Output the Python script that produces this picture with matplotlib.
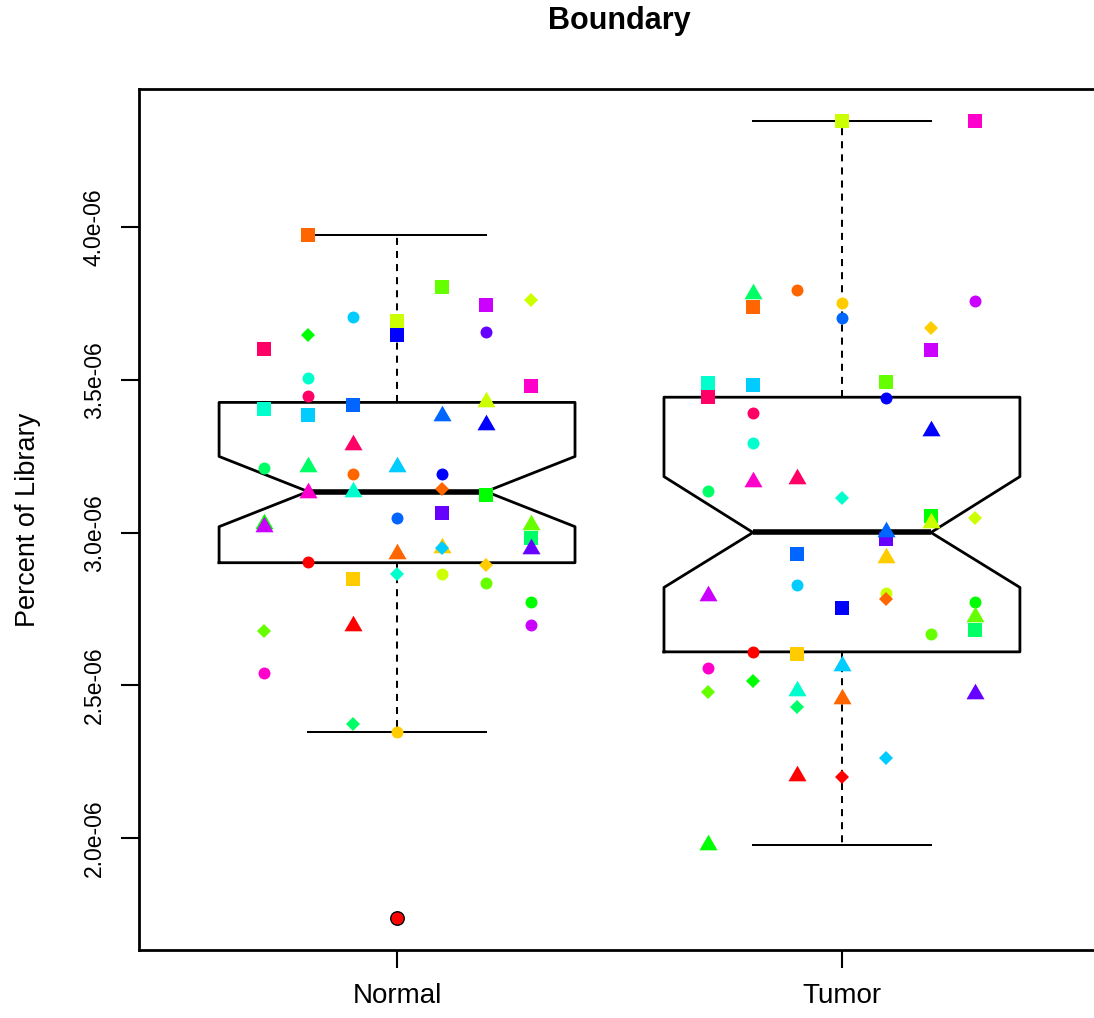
import matplotlib.pyplot as plt
import numpy as np

plt.rcParams['font.family'] = ['Liberation Sans', 'DejaVu Sans']

groups = ["Normal", "Tumor"]
scale = 1e-6

# rainbow(15)
palette = ['#FF0000', '#FF6600', '#FFCC00', '#CCFF00', '#66FF00', '#00FF00', '#00FF66', '#00FFCC',
           '#00CCFF', '#0066FF', '#0000FF', '#6600FF', '#CC00FF', '#FF00CC', '#FF0066']

# Normal samples: value (x1e-6), jitter slot, colour index, shape
normal_vals = [3.976, 3.805, 3.745, 3.762, 3.708, 3.694, 3.647, 3.647, 3.656, 3.601,
               3.508, 3.480, 3.449, 3.437, 3.404, 3.387, 3.420, 3.393, 3.364, 3.297,
               3.211, 3.224, 3.191, 3.226, 3.191, 3.139, 3.142, 3.144, 3.125, 3.048,
               3.064, 3.037, 3.030, 3.034, 2.983, 2.956, 2.939, 2.961, 2.950, 2.903,
               2.893, 2.865, 2.850, 2.864, 2.834, 2.774, 2.704, 2.698, 2.677, 2.541,
               2.373, 2.347, 1.738]
normal_slot = [-2, 1, 2, 3, -1, 0, 0, -2, 2, -3,
               -2, 3, -2, 2, -3, -2, -1, 1, 2, -1,
               -3, -2, -1, 0, 1, -2, -1, 1, 2, 0,
               1, -3, -3, 3, 3, 3, 0, 1, 1, -2,
               2, 0, -1, 1, 2, 3, -1, 3, -3, -3,
               -1, 0, 0]
normal_col = [1, 4, 12, 3, 8, 3, 10, 5, 11, 14,
              7, 13, 14, 3, 7, 8, 9, 9, 10, 14,
              6, 6, 1, 8, 10, 13, 7, 1, 5, 9,
              11, 5, 12, 4, 6, 11, 1, 2, 8, 0,
              2, 7, 2, 3, 4, 5, 0, 12, 4, 13,
              6, 2, 0]
normal_pch = "sssDossDos" "oso^sss^^^" "o^o^o^^Dso" "s^^^s^^^Do" "DDsooo^oDo" "Doo"

# Tumor samples
tumor_vals = [4.349, 4.348, 3.792, 3.740, 3.796, 3.751, 3.705, 3.758, 3.671, 3.598,
              3.491, 3.483, 3.494, 3.445, 3.443, 3.391, 3.342, 3.295, 3.175, 3.185,
              3.136, 3.114, 3.054, 3.043, 3.049, 2.978, 3.013, 2.928, 2.932, 2.803,
              2.829, 2.803, 2.784, 2.754, 2.772, 2.735, 2.682, 2.670, 2.610, 2.604,
              2.575, 2.558, 2.513, 2.478, 2.491, 2.466, 2.429, 2.483, 2.263, 2.212,
              2.201, 1.986]
tumor_slot = [0, 3, -2, -2, -1, 0, 0, 3, 2, 2,
              -3, -2, 1, -3, 1, -2, 2, -2, -2, -1,
              -3, 0, 2, 2, 3, 1, 1, 1, -1, -3,
              -1, 1, 1, 0, 3, 3, 3, 2, -2, -1,
              0, -3, -2, -3, -1, 0, -1, 3, 1, -1,
              0, -3]
tumor_col = [3, 13, 6, 1, 1, 2, 9, 12, 2, 12,
             7, 8, 4, 14, 10, 14, 10, 7, 13, 14,
             6, 7, 5, 3, 3, 11, 9, 2, 9, 12,
             8, 3, 1, 10, 5, 4, 6, 4, 0, 2,
             8, 13, 5, 4, 7, 1, 6, 11, 8, 0,
             0, 5]
tumor_pch = "ss^sooooDs" "ssssoo^o^^" "oDs^Ds^^s^" "ooDso^soos" "^oDD^^D^D^" "D^"

# notched box statistics (x1e-6)
box_whislo = [2.349, 1.977]
box_q1 = [2.902, 2.610]
box_med = [3.135, 3.001]
box_q3 = [3.427, 3.444]
box_whishi = [3.976, 4.349]
box_cilo = [3.020, 2.821]
box_cihi = [3.250, 3.184]
box_out = [[1.738], []]

yticks = [2.0, 2.5, 3.0, 3.5, 4.0]

tri = [(0, 0.866), (1, -0.866), (-1, -0.866)]
shapes = {'o': ('o', 8.6), 's': ('s', 9.6), '^': (tri, 13), 'D': ('D', 6.8)}

fig = plt.figure(figsize=(10.94, 10.18), dpi=100)
ax = fig.add_axes([139 / 1094, 68 / 1018, 961 / 1094, 861 / 1018])

stats = []
for i in range(2):
    stats.append(dict(med=box_med[i] * scale, q1=box_q1[i] * scale, q3=box_q3[i] * scale,
                      whislo=box_whislo[i] * scale, whishi=box_whishi[i] * scale,
                      cilo=box_cilo[i] * scale, cihi=box_cihi[i] * scale,
                      fliers=np.array(box_out[i]) * scale))

ax.bxp(stats, positions=[1, 2], widths=0.8, shownotches=True, manage_ticks=False,
       boxprops=dict(color='black', linewidth=2),
       medianprops=dict(color='black', linewidth=4, solid_capstyle='butt'),
       whiskerprops=dict(color='black', linewidth=1.45, linestyle=(0, (3.5, 3))),
       capprops=dict(color='black', linewidth=1.45),
       flierprops=dict(marker='o', markerfacecolor='none', markeredgecolor='black',
                       markersize=9.4, markeredgewidth=1.3),
       zorder=2)

for pos, vals, slots, cols, pch in [(1, normal_vals, normal_slot, normal_col, normal_pch),
                                     (2, tumor_vals, tumor_slot, tumor_col, tumor_pch)]:
    for v, s, c, p in zip(vals, slots, cols, pch):
        m, ms = shapes[p]
        ax.plot(pos + 0.1 * s, v * scale, linestyle='none', marker=m, markersize=ms,
                color=palette[c], markeredgewidth=0, zorder=3)

allv = np.array(normal_vals + tumor_vals) * scale
rng = allv.max() - allv.min()
ax.set_ylim(allv.min() - 0.04 * rng, allv.max() + 0.04 * rng)
ax.set_xlim(0.42, 2.58)

ax.set_xticks([1, 2])
ax.set_xticklabels(groups, fontsize=20)
ax.set_yticks(np.array(yticks) * scale)
ax.set_yticklabels([f"{t * scale:.1e}" for t in yticks], fontsize=16.5, rotation=90, va='center')
ax.tick_params(axis='both', direction='out', length=13, width=1.5)
ax.tick_params(axis='x', pad=11)
ax.tick_params(axis='y', pad=11)
for sp in ax.spines.values():
    sp.set_linewidth(2)

ax.set_title("Boundary", fontsize=22, fontweight='bold', pad=43)
ax.set_ylabel("Percent of Library", fontsize=19.5)
ax.yaxis.set_label_coords(-0.102, 0.5)

fig.savefig("out.png", dpi=100)
